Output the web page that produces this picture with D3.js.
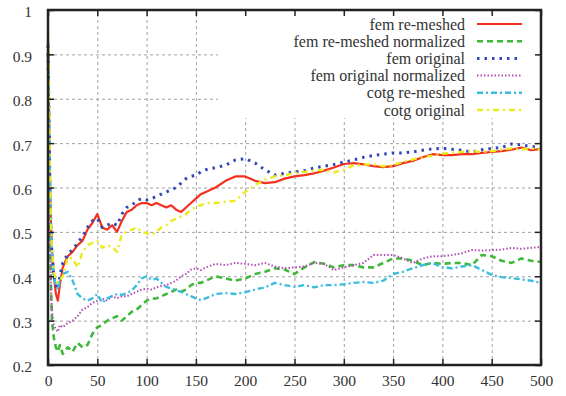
<!DOCTYPE html>
<html>
<head>
<meta charset="utf-8">
<script src="https://cdn.jsdelivr.net/npm/d3@7"></script>
<style>
  body { margin: 0; background: #fff; }
  svg { display: block; }
  text { font-family: "Liberation Serif", "Times New Roman", serif; fill: #333; }
</style>
</head>
<body>
<svg id="chart"></svg>
<script>
const width = 566;
const height = 396;

// x positions of the sampled points (iterations)
const steps = [
  0, 1, 2, 3, 4, 6, 8, 10, 12, 15,
  20, 25, 30, 35, 40, 45, 50, 55, 60, 65,
  70, 75, 80, 85, 90, 95, 100, 105, 110, 115,
  120, 125, 130, 135, 140, 145, 150, 155, 160,
  170, 180, 190, 200, 210, 220, 230, 240, 250, 260,
  270, 280, 290, 300, 310, 320, 330, 340, 350, 360,
  370, 380, 390, 400, 410, 420, 430, 440, 450, 460,
  470, 480, 490, 500
];

const femRemeshed = [
  0.93, 0.78, 0.62, 0.52, 0.46, 0.40, 0.36, 0.345, 0.38, 0.42,
  0.445, 0.455, 0.47, 0.48, 0.505, 0.52, 0.54, 0.51, 0.505, 0.515,
  0.50, 0.525, 0.545, 0.55, 0.56, 0.565, 0.565, 0.56, 0.565, 0.56,
  0.555, 0.56, 0.55, 0.545, 0.555, 0.565, 0.575, 0.585, 0.59,
  0.60, 0.615, 0.625, 0.625, 0.615, 0.61, 0.612, 0.62, 0.625, 0.628,
  0.632, 0.638, 0.645, 0.653, 0.655, 0.652, 0.648, 0.646, 0.648, 0.655,
  0.66, 0.668, 0.675, 0.673, 0.673, 0.675, 0.675, 0.678, 0.68, 0.682,
  0.685, 0.69, 0.684, 0.687
];

const femRemeshedNorm = [
  0.90, 0.70, 0.50, 0.38, 0.30, 0.26, 0.24, 0.23, 0.245, 0.225,
  0.24, 0.23, 0.25, 0.24, 0.245, 0.27, 0.285, 0.29, 0.30, 0.305,
  0.31, 0.30, 0.31, 0.32, 0.325, 0.335, 0.345, 0.35, 0.35, 0.355,
  0.36, 0.365, 0.37, 0.365, 0.37, 0.38, 0.385, 0.385, 0.39,
  0.40, 0.395, 0.39, 0.395, 0.405, 0.41, 0.418, 0.415, 0.405, 0.42,
  0.432, 0.428, 0.42, 0.425, 0.425, 0.42, 0.42, 0.43, 0.44, 0.44,
  0.435, 0.425, 0.43, 0.428, 0.43, 0.43, 0.425, 0.448, 0.445, 0.435,
  0.43, 0.44, 0.435, 0.432
];

const femOriginal = [
  0.92, 0.76, 0.60, 0.50, 0.45, 0.40, 0.38, 0.37, 0.40, 0.43,
  0.45, 0.46, 0.475, 0.49, 0.51, 0.525, 0.53, 0.51, 0.515, 0.52,
  0.515, 0.54, 0.555, 0.56, 0.57, 0.575, 0.572, 0.575, 0.58, 0.585,
  0.59, 0.595, 0.60, 0.61, 0.62, 0.625, 0.628, 0.635, 0.64,
  0.645, 0.65, 0.662, 0.665, 0.655, 0.64, 0.628, 0.632, 0.635, 0.638,
  0.644, 0.648, 0.652, 0.657, 0.662, 0.668, 0.672, 0.675, 0.678, 0.678,
  0.68, 0.684, 0.687, 0.688, 0.686, 0.684, 0.68, 0.685, 0.688, 0.69,
  0.698, 0.696, 0.692, 0.691
];

const femOriginalNorm = [
  0.90, 0.70, 0.50, 0.38, 0.32, 0.29, 0.28, 0.275, 0.29, 0.285,
  0.295, 0.30, 0.31, 0.325, 0.33, 0.34, 0.345, 0.35, 0.345, 0.355,
  0.35, 0.355, 0.355, 0.36, 0.365, 0.37, 0.372, 0.37, 0.375, 0.378,
  0.38, 0.385, 0.39, 0.40, 0.405, 0.415, 0.418, 0.414, 0.42,
  0.428, 0.425, 0.43, 0.428, 0.425, 0.43, 0.422, 0.418, 0.42, 0.422,
  0.43, 0.428, 0.414, 0.42, 0.425, 0.43, 0.448, 0.448, 0.448, 0.44,
  0.43, 0.44, 0.445, 0.445, 0.448, 0.452, 0.459, 0.458, 0.459, 0.46,
  0.464, 0.462, 0.464, 0.466
];

const cotgRemeshed = [
  0.93, 0.78, 0.62, 0.52, 0.45, 0.40, 0.38, 0.37, 0.39, 0.405,
  0.41, 0.39, 0.36, 0.35, 0.345, 0.35, 0.36, 0.34, 0.35, 0.355,
  0.36, 0.358, 0.362, 0.368, 0.38, 0.395, 0.40, 0.392, 0.395, 0.385,
  0.376, 0.372, 0.369, 0.365, 0.36, 0.355, 0.35, 0.346, 0.35,
  0.36, 0.362, 0.36, 0.364, 0.37, 0.375, 0.385, 0.38, 0.376, 0.38,
  0.375, 0.38, 0.38, 0.382, 0.385, 0.387, 0.385, 0.39, 0.405, 0.41,
  0.418, 0.425, 0.43, 0.42, 0.418, 0.422, 0.425, 0.414, 0.403, 0.398,
  0.396, 0.393, 0.39, 0.385
];

const cotgOriginal = [
  0.95, 0.80, 0.64, 0.53, 0.46, 0.41, 0.39, 0.385, 0.39, 0.40,
  0.443, 0.44, 0.42, 0.455, 0.47, 0.475, 0.48, 0.464, 0.47, 0.466,
  0.455, 0.495, 0.50, 0.505, 0.51, 0.50, 0.497, 0.493, 0.50, 0.51,
  0.515, 0.525, 0.53, 0.535, 0.54, 0.55, 0.556, 0.56, 0.565,
  0.565, 0.568, 0.57, 0.59, 0.605, 0.618, 0.625, 0.628, 0.632, 0.635,
  0.638, 0.64, 0.634, 0.64, 0.65, 0.652, 0.652, 0.648, 0.65, 0.658,
  0.663, 0.668, 0.672, 0.676, 0.678, 0.68, 0.682, 0.68, 0.682, 0.685,
  0.688, 0.686, 0.688, 0.685
];

const seriesNames = [
  "fem re-meshed", "fem re-meshed normalized", "fem original",
  "fem original normalized", "cotg re-meshed", "cotg original"
];
const seriesValues = [femRemeshed, femRemeshedNorm, femOriginal, femOriginalNorm, cotgRemeshed, cotgOriginal];

const xTickValues = [0, 50, 100, 150, 200, 250, 300, 350, 400, 450, 500];
const yTickValues = [0.2, 0.3, 0.4, 0.5, 0.6, 0.7, 0.8, 0.9, 1];
const yTickLabels = ["0.2", "0.3", "0.4", "0.5", "0.6", "0.7", "0.8", "0.9", "1"];

// line styles, gnuplot-like
const styles = [
  { color: "#f4301e", dash: null, w: 2.2 },
  { color: "#3fb83a", dash: "6,4", w: 2.6 },
  { color: "#2f48b8", dash: "2.5,5", w: 3 },
  { color: "#b24eb4", dash: "1.5,2", w: 2 },
  { color: "#3cbde0", dash: "6,3,2,3", w: 2.4 },
  { color: "#ecea1c", dash: "6,4,2,4", w: 2.4 }
];

const svg = d3.select("#chart")
  .attr("width", width)
  .attr("height", height);

const margin = { top: 10, right: 25, bottom: 31, left: 48 };
const innerWidth = width - margin.left - margin.right;
const innerHeight = height - margin.top - margin.bottom;

const xScale = d3.scaleLinear().domain([0, 500]).range([0, innerWidth]);
const yScale = d3.scaleLinear().domain([0.2, 1]).range([innerHeight, 0]);

const g = svg.append("g")
  .attr("transform", `translate(${margin.left},${margin.top})`);

// legend box (inner coords) - the grid stops at it
const legendBox = { x0: 170, y1: 108 };

// dashed grid (no labels), cut short where the legend sits
const gridX = g.append("g")
  .attr("transform", `translate(0,${innerHeight})`)
  .call(d3.axisBottom(xScale).tickValues(xTickValues).tickSize(-innerHeight));
gridX.selectAll(".tick line")
  .attr("y2", d => xScale(d) > legendBox.x0 ? -(innerHeight - legendBox.y1) : -innerHeight);
const gridY = g.append("g")
  .call(d3.axisLeft(yScale).tickValues(yTickValues).tickSize(-innerWidth));
gridY.selectAll(".tick line")
  .attr("x2", d => yScale(d) < legendBox.y1 ? legendBox.x0 : innerWidth);
[gridX, gridY].forEach(a => {
  a.select(".domain").remove();
  a.selectAll("text").remove();
  a.selectAll("line").attr("stroke", "#8a8a8a").attr("stroke-dasharray", "3,3").attr("stroke-width", 0.8);
});

// series lines
const line = d3.line()
  .x((d, i) => xScale(steps[i]))
  .y(d => yScale(d));

seriesValues.forEach((vals, k) => {
  g.append("path")
    .datum(vals)
    .attr("fill", "none")
    .attr("stroke", styles[k].color)
    .attr("stroke-width", styles[k].w)
    .attr("stroke-dasharray", styles[k].dash)
    .attr("stroke-linejoin", "round")
    .attr("d", line);
});

// legend
const legend = g.append("g");
seriesNames.forEach((name, k) => {
  const y = 14 + k * 17.2;
  legend.append("text")
    .attr("x", 417)
    .attr("y", y)
    .attr("dy", "0.35em")
    .attr("text-anchor", "end")
    .style("font-size", "16px")
    .attr("fill", "#222")
    .text(name);
  legend.append("line")
    .attr("x1", 429).attr("x2", 474)
    .attr("y1", y).attr("y2", y)
    .attr("stroke", styles[k].color)
    .attr("stroke-width", styles[k].w)
    .attr("stroke-dasharray", styles[k].dash);
});

// axes: inner ticks on all four sides
const tickLen = 6;
const xAxis = g.append("g")
  .attr("transform", `translate(0,${innerHeight})`)
  .call(d3.axisBottom(xScale).tickValues(xTickValues).tickSize(-tickLen).tickPadding(10));
const xAxisTop = g.append("g")
  .call(d3.axisTop(xScale).tickValues(xTickValues).tickSize(-tickLen));
const yAxis = g.append("g")
  .call(d3.axisLeft(yScale).tickValues(yTickValues).tickSize(-tickLen).tickPadding(16)
    .tickFormat((d, i) => yTickLabels[i]));
const yAxisRight = g.append("g")
  .attr("transform", `translate(${innerWidth},0)`)
  .call(d3.axisRight(yScale).tickValues(yTickValues).tickSize(-tickLen));
xAxisTop.selectAll("text").remove();
yAxisRight.selectAll("text").remove();

[xAxis, xAxisTop, yAxis, yAxisRight].forEach(a => {
  a.select(".domain").remove();
  a.selectAll("line").attr("stroke", "#222").attr("stroke-width", 1.5);
  a.selectAll("text")
    .style("font-size", "15.5px")
    .style("font-family", "'Liberation Serif', serif")
    .attr("fill", "#333");
});
yAxis.selectAll("text").attr("dy", "0.45em");

// frame
g.append("rect")
  .attr("width", innerWidth)
  .attr("height", innerHeight)
  .attr("fill", "none")
  .attr("stroke", "#222")
  .attr("stroke-width", 2.5);
</script>
</body>
</html>
